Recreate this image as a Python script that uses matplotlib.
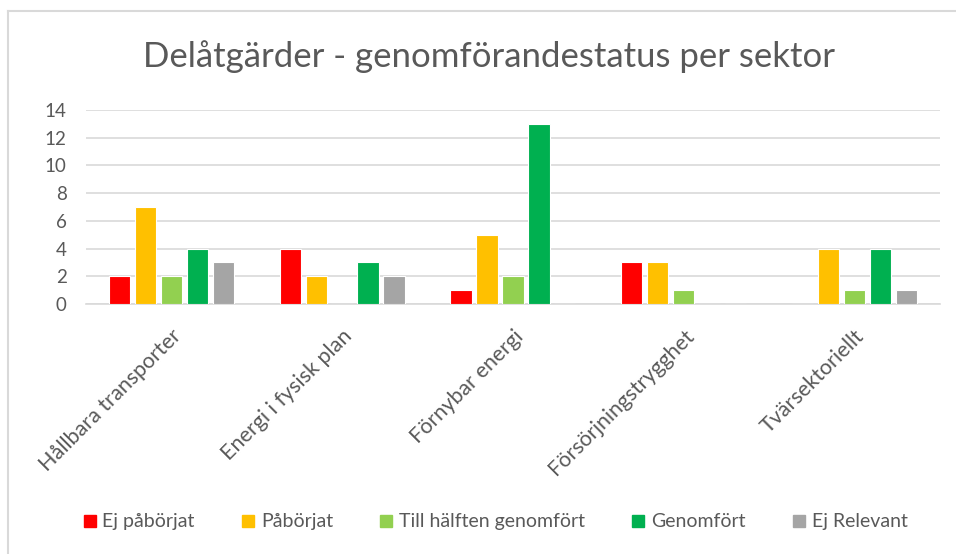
import matplotlib.pyplot as plt
from matplotlib.lines import Line2D
import numpy as np

plt.rcParams['font.family'] = ['Lato', 'DejaVu Sans']

categories = ["Hållbara transporter", "Energi i fysisk plan", "Förnybar energi",
              "Försörjningstrygghet", "Tvärsektoriellt"]
series = ["Ej påbörjat", "Påbörjat", "Till hälften genomfört", "Genomfört", "Ej Relevant"]
values = [
    [2, 4, 1, 3, 0],   # Ej påbörjat
    [7, 2, 5, 3, 4],   # Påbörjat
    [2, 0, 2, 1, 1],   # Till hälften genomfört
    [4, 3, 13, 0, 4],  # Genomfört
    [3, 2, 0, 0, 1],   # Ej Relevant
]
colors = ["#FF0000", "#FFC000", "#92D050", "#00B050", "#A5A5A5"]
yticks = [0, 2, 4, 6, 8, 10, 12, 14]

text_col = "#595959"

fig = plt.figure(figsize=(9.56, 5.54), dpi=100)
ax = fig.add_axes([0.09, 0.4513, 0.893, 0.3502])

x = np.arange(len(categories))
step = 0.152
width = 0.125
for i, (name, vals) in enumerate(zip(series, values)):
    ax.bar(x + (i - 2) * step, vals, width, color=colors[i], label=name,
           edgecolor="white", linewidth=0.8, zorder=3)

ax.set_xlim(-0.5, len(categories) - 0.5)
ax.set_ylim(0, 14)
ax.set_yticks(yticks)
ax.yaxis.grid(True, color="#D9D9D9", linewidth=1.2, zorder=0)
for s in ["top", "right", "left"]:
    ax.spines[s].set_visible(False)
ax.spines["bottom"].set_color("#D9D9D9")
ax.spines["bottom"].set_linewidth(1.2)
ax.tick_params(axis="both", length=0, colors=text_col)
ax.tick_params(axis="y", pad=14, labelsize=13.5)
ax.set_xticks(x)
ax.set_xticklabels(categories, rotation=45, ha="right", rotation_mode="anchor",
                   fontsize=15.5, color=text_col)
ax.tick_params(axis="x", pad=16)

fig.text(0.512, 0.897, "Delåtgärder - genomförandestatus per sektor",
         ha="center", va="center", fontsize=25, color=text_col)

handles = [Line2D([], [], marker="s", linestyle="none", markersize=9,
                  markerfacecolor=c, markeredgecolor=c) for c in colors]
fig.legend(handles, series, loc="center", bbox_to_anchor=(0.518, 0.058), ncol=5,
           frameon=False, fontsize=14, labelcolor=text_col, handlelength=0.7,
           handletextpad=0.3, columnspacing=2.4)

# chart frame (left and top edges visible)
fig.add_artist(Line2D([0.0085, 0.0085], [0.0, 0.98], transform=fig.transFigure,
                      color="#D9D9D9", linewidth=1.5))
fig.add_artist(Line2D([0.0085, 1.0], [0.98, 0.98], transform=fig.transFigure,
                      color="#D9D9D9", linewidth=1.5))

fig.savefig("out.png", dpi=100)
